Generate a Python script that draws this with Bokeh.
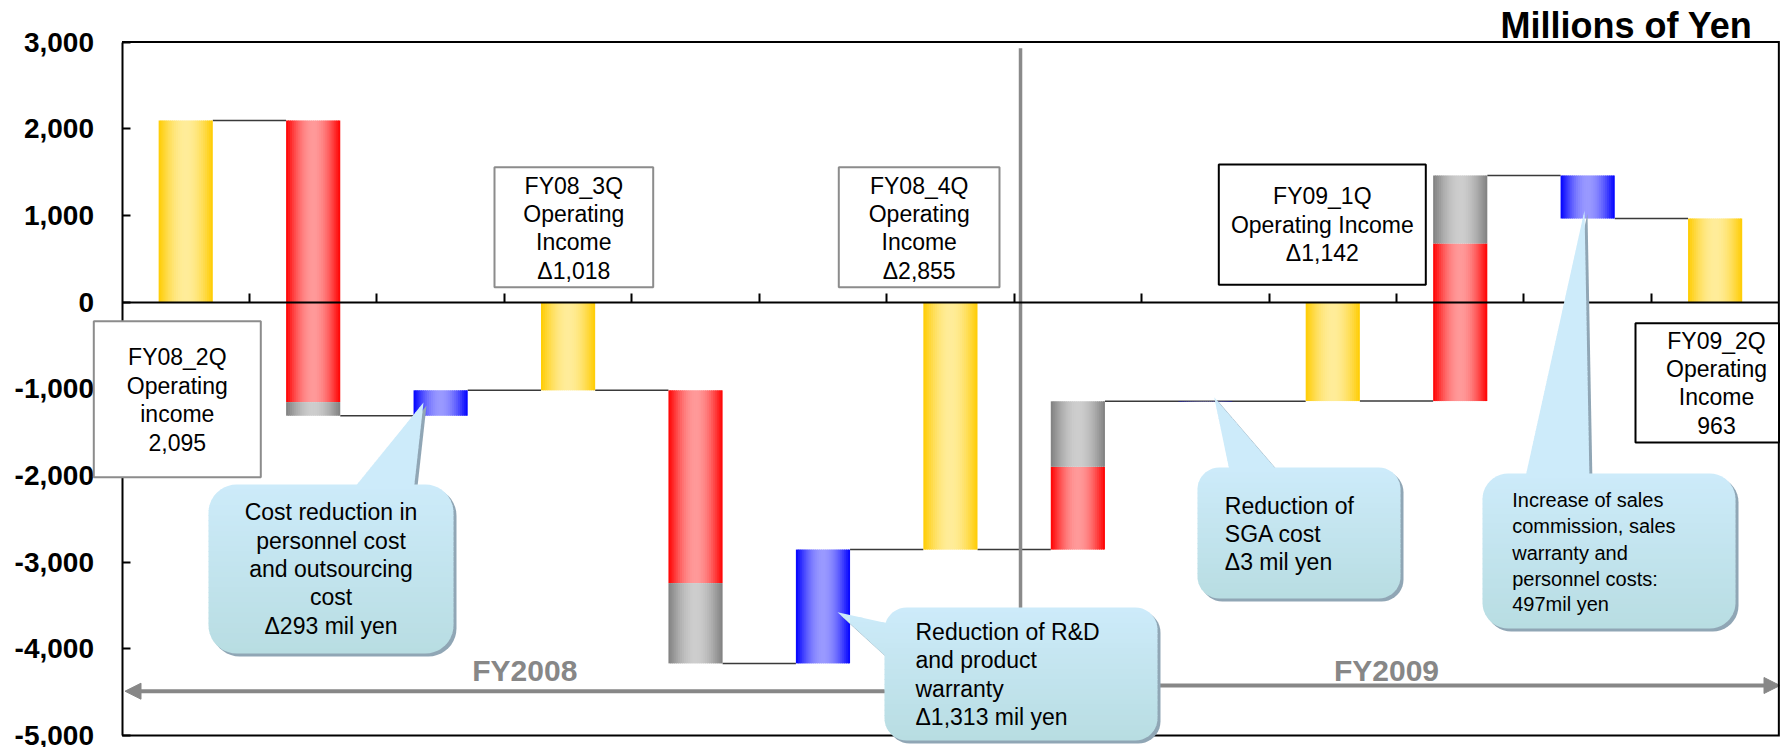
import math
from bokeh.plotting import figure
from bokeh.models import (ColumnDataSource, Range1d, LinearAxis, FixedTicker,
                          NumeralTickFormatter, Arrow, NormalHead)
from bokeh.core.properties import value
from bokeh.embed import file_html
from bokeh.resources import INLINE

# ---------------------------------------------------------------------------
# Operating income bridge (millions of yen), one slot per step
# ---------------------------------------------------------------------------
steps = ["FY08_2Q", "FY08_3Q decrease", "FY08_3Q cost reduction", "FY08_3Q",
         "FY08_4Q decrease", "FY08_4Q cost reduction", "FY08_4Q",
         "FY09_1Q increase", "FY09_1Q SGA reduction", "FY09_1Q",
         "FY09_2Q increase", "FY09_2Q cost increase", "FY09_2Q"]
total_values = [2095, None, None, -1018, None, None, -2855, None, None, -1142, None, None, 963]
red_delta = [0, -3249, 0, 0, -2224, 0, 0, 955, 0, 0, 1819, 0, 0]
gray_delta = [0, -157, 0, 0, -926, 0, 0, 755, 0, 0, 783, 0, 0]
blue_delta = [0, 0, 293, 0, 0, 1313, 0, 0, 3, 0, 0, -497, 0]
y_ticks = [-5000, -4000, -3000, -2000, -1000, 0, 1000, 2000, 3000]
period_labels = ["FY2008", "FY2009"]
unit_label = "Millions of Yen"

# ---------------------------------------------------------------------------
# Canvas geometry: the frame fills the whole page, axes sit at fixed places
# ---------------------------------------------------------------------------
W, H = 1780, 747
AXIS_PX = 121.5          # pixel column of the value axis
SLOT_PX = 127.45         # width of one step slot
TOP_PX, BOT_PX = 41.5, 735.0   # pixel rows of 3,000 and -5,000
PPU = (BOT_PX - TOP_PX) / 8000.0
X_START = -AXIS_PX / SLOT_PX
X_END = (W - AXIS_PX) / SLOT_PX
Y_TOP = 3000 + TOP_PX / PPU
Y_BOT = Y_TOP - H / PPU
N_SLOTS = len(steps)
BAR_W = 0.425
FONT = "Liberation Sans"
MID = 0.35   # distance from baseline to text middle, in em


def dx(px):
    return (px - AXIS_PX) / SLOT_PX


def dy(py):
    return Y_TOP - py / PPU


def mix(c0, c1, f):
    return "#%02x%02x%02x" % tuple(int(round(a + (b - a) * f)) for a, b in zip(c0, c1))


def fmt_income(v):
    return ("Δ" + f"{-v:,}") if v < 0 else f"{v:,}"


p = figure(width=W, height=H, x_range=Range1d(X_START, X_END), y_range=Range1d(Y_BOT, Y_TOP),
           output_backend="svg", toolbar_location=None, x_axis_location=None,
           y_axis_location=None, min_border=0, title=None, outline_line_color=None,
           background_fill_color="white", border_fill_color="white")
p.xgrid.visible = False
p.ygrid.visible = False

# value axis on the left edge of the chart box
yaxis = LinearAxis(fixed_location=0, ticker=FixedTicker(ticks=y_ticks),
                   formatter=NumeralTickFormatter(format="0,0"), bounds=(-5000, 3000),
                   major_tick_in=8, major_tick_out=0, minor_tick_in=0, minor_tick_out=0,
                   axis_line_width=2, axis_line_color="black", major_tick_line_width=2,
                   major_label_standoff=28, major_label_text_font=FONT,
                   major_label_text_font_size="28px", major_label_text_font_style="bold",
                   major_label_text_color="black")
p.add_layout(yaxis, "left")

# zero line with slot separators
slot_ticks = list(range(1, N_SLOTS))
xaxis = LinearAxis(fixed_location=0, ticker=FixedTicker(ticks=slot_ticks), bounds=(0, N_SLOTS),
                   major_tick_in=9, major_tick_out=0, minor_tick_in=0, minor_tick_out=0,
                   axis_line_width=2, axis_line_color="black", major_tick_line_width=2,
                   major_label_overrides={t: "" for t in slot_ticks})
p.add_layout(xaxis, "below")

# ---------------------------------------------------------------------------
# Waterfall segments
# ---------------------------------------------------------------------------
palette = {
    "total": ((255, 204, 0), (255, 236, 153)),
    "red": ((255, 0, 0), (255, 153, 153)),
    "gray": ((128, 128, 128), (205, 205, 205)),
    "blue": ((0, 0, 255), (153, 153, 255)),
}

segments = []
levels = []
visible = []
level = 0
for i in range(N_SLOTS):
    xc = i + 0.5
    if total_values[i] is not None:
        segments.append((xc, 0, total_values[i], "total"))
        level = total_values[i]
        visible.append(True)
    else:
        moved = 0
        for kind, d in (("red", red_delta[i]), ("gray", gray_delta[i]), ("blue", blue_delta[i])):
            if d:
                segments.append((xc, level, level + d, kind))
                level += d
                moved += abs(d)
        visible.append(moved >= 20)
    levels.append(level)

# connectors between consecutive visible bars
shown = [i for i in range(N_SLOTS) if visible[i]]
con = dict(x0=[], y0=[], x1=[], y1=[])
for a, b in zip(shown[:-1], shown[1:]):
    con["x0"].append(a + 0.5 + BAR_W / 2)
    con["x1"].append(b + 0.5 - BAR_W / 2)
    con["y0"].append(levels[a])
    con["y1"].append(levels[a])
p.segment(x0="x0", y0="y0", x1="x1", y1="y1", source=ColumnDataSource(con),
          line_color="#3a3a3a", line_width=1.5)

# cylinder-like shading: each bar is built from thin vertical strips
N_STRIPS = 28
ovl = 0.8 / SLOT_PX
strips = dict(left=[], right=[], bottom=[], top=[], color=[])
for xc, y0, y1, kind in segments:
    lo, hi = min(y0, y1), max(y0, y1)
    edge, center = palette[kind]
    for k in range(N_STRIPS):
        t0, t1 = k / N_STRIPS, (k + 1) / N_STRIPS
        f = math.sin(math.pi * (k + 0.5) / N_STRIPS)
        strips["left"].append(xc - BAR_W / 2 + t0 * BAR_W)
        strips["right"].append(xc - BAR_W / 2 + t1 * BAR_W + (0 if k == N_STRIPS - 1 else ovl))
        strips["bottom"].append(lo)
        strips["top"].append(hi)
        strips["color"].append(mix(edge, center, f))
p.quad(left="left", right="right", bottom="bottom", top="top", fill_color="color",
       line_color=None, source=ColumnDataSource(strips))

# fiscal-year divider
DIVIDER_X = 7.05
p.segment(x0=[DIVIDER_X], y0=[dy(47.7)], x1=[DIVIDER_X], y1=[-5000],
          line_color="#8a8a8a", line_width=3.5)

# chart box (top, right, bottom)
p.line(x=[0, N_SLOTS, N_SLOTS, 0], y=[3000, 3000, -5000, -5000],
       line_color="black", line_width=2, line_join="miter")

# fiscal-year span arrows and labels
ARROW_GRAY = "#878787"
p.add_layout(Arrow(end=NormalHead(size=16, fill_color=ARROW_GRAY, line_color=ARROW_GRAY),
                   x_start=DIVIDER_X, y_start=dy(690.7), x_end=dx(124.5), y_end=dy(690.7),
                   line_color=ARROW_GRAY, line_width=4, level="underlay"))
p.add_layout(Arrow(end=NormalHead(size=16, fill_color=ARROW_GRAY, line_color=ARROW_GRAY),
                   x_start=DIVIDER_X, y_start=dy(685.0), x_end=dx(1779.5), y_end=dy(685.0),
                   line_color=ARROW_GRAY, line_width=4, level="underlay"))
p.text(x=[dx(524.3), dx(1386.0)], y=[dy(680.7 - MID * 30), dy(680.0 - MID * 30)],
       text=period_labels, text_font=value(FONT), text_font_size="30px",
       text_font_style="bold", text_color=ARROW_GRAY, text_align="center",
       text_baseline="middle")

p.text(x=[dx(1752)], y=[dy(37.7 - MID * 36)], text=[unit_label], text_font=value(FONT),
       text_font_size="36px", text_font_style="bold", text_color="black",
       text_align="right", text_baseline="middle")


def add_lines(x_px, baselines, lines, size, align="center", color="black"):
    src = ColumnDataSource(dict(x=[dx(x_px)] * len(lines),
                                y=[dy(b - MID * size) for b in baselines], text=lines))
    p.text(x="x", y="y", text="text", source=src, text_font=value(FONT),
           text_font_size=f"{size}px", text_align=align, text_baseline="middle",
           text_color=color, level="annotation")


# ---------------------------------------------------------------------------
# Quarter operating income boxes
# ---------------------------------------------------------------------------
boxes = [
    # (left, top, right, bottom) px, border colour, text x, baselines, slot, word
    ((93.3, 320.7, 260.3, 476.7), "#8c8c8c", 176.8, [365, 393.3, 421.6, 450], 0, "income"),
    ((494.0, 166.7, 652.7, 286.7), "#8c8c8c", 573.3, [193.3, 221.6, 250, 278.3], 3, "Income"),
    ((838.3, 166.7, 999.0, 286.7), "#8c8c8c", 918.7, [193.3, 221.6, 250, 278.3], 6, "Income"),
    ((1218.3, 164.0, 1425.3, 284.3), "black", 1321.8, [204, 232.3, 260.7], 9, None),
    ((1635.0, 322.7, 1778.5, 442.0), "black", 1716.0, [348.3, 376.7, 405, 433.3], 12, "Income"),
]
for (l, t, r, b), border, tx, bl, slot, word in boxes:
    p.quad(left=[dx(l)], right=[dx(r)], top=[dy(t)], bottom=[dy(b)], fill_color="white",
           line_color=border, line_width=2, level="annotation")
    quarter = steps[slot]
    if word is None:
        lines = [quarter, "Operating Income", fmt_income(total_values[slot])]
    else:
        lines = [quarter, "Operating", word, fmt_income(total_values[slot])]
    add_lines(tx, bl, lines, 23)


# ---------------------------------------------------------------------------
# Speech-bubble notes
# ---------------------------------------------------------------------------
def rounded_rect(l, t, r, b, rad, n=10):
    pts = []
    for cx, cy, a0 in ((r - rad, t + rad, -90), (r - rad, b - rad, 0),
                       (l + rad, b - rad, 90), (l + rad, t + rad, 180)):
        for k in range(n + 1):
            a = math.radians(a0 + 90 * k / n)
            pts.append((cx + rad * math.cos(a), cy + rad * math.sin(a)))
    return pts


def clip_band(pts, y0, y1):
    def clip(poly, keep, yc):
        out = []
        for i in range(len(poly)):
            cur, prev = poly[i], poly[i - 1]
            def cross():
                t = (yc - prev[1]) / (cur[1] - prev[1])
                return (prev[0] + t * (cur[0] - prev[0]), yc)
            if keep(cur):
                if not keep(prev):
                    out.append(cross())
                out.append(cur)
            elif keep(prev):
                out.append(cross())
        return out
    pts = clip(pts, lambda q: q[1] >= y0, y0)
    if len(pts) < 3:
        return []
    return clip(pts, lambda q: q[1] <= y1, y1)


BUBBLE_TOP = (205, 235, 250)
BUBBLE_BOT = (184, 221, 226)
BUBBLE_SHADOW = "#90a6b5"


def bubble(body, pointer):
    l, t, r, b = body
    rad = min(r - l, b - t) / 6
    body_pts = rounded_rect(l, t, r, b, rad)
    xs, ys, cols = [], [], []
    for shape in (pointer, body_pts):
        xs.append([dx(x + 3) for x, _ in shape])
        ys.append([dy(y + 3) for _, y in shape])
        cols.append(BUBBLE_SHADOW)
    for shape in (pointer, body_pts):
        y_lo = min(y for _, y in shape)
        y_hi = max(y for _, y in shape)
        n = max(4, int((y_hi - y_lo) / 5))
        h = (y_hi - y_lo) / n
        for k in range(n):
            a = y_lo + k * h
            piece = clip_band(shape, a, min(a + h + 0.8, y_hi))
            if len(piece) < 3:
                continue
            f = min(1.0, max(0.0, (a + h / 2 - t) / (b - t)))
            xs.append([dx(x) for x, _ in piece])
            ys.append([dy(y) for _, y in piece])
            cols.append(mix(BUBBLE_TOP, BUBBLE_BOT, f))
    p.patches(xs=xs, ys=ys, fill_color=cols, line_color=None, level="annotation")


bubble((208, 484, 453, 653), [(350, 492), (413, 492), (423, 402)])
add_lines(330.5, [520, 548.3, 576.7, 605, 633.4],
          ["Cost reduction in", "personnel cost", "and outsourcing", "cost",
           f"Δ{blue_delta[2]:,} mil yen"], 23)

bubble((884, 607, 1157, 740), [(892, 624), (892, 662), (837, 611.7)])
add_lines(915, [639.3, 668, 696.7, 725],
          ["Reduction of R&D", "and product", "warranty", f"Δ{blue_delta[5]:,} mil yen"],
          23, align="left")

bubble((1197, 467, 1400, 598), [(1230, 475), (1281, 475), (1213.7, 396.7)])
add_lines(1224.3, [513.3, 541.7, 570],
          ["Reduction of", "SGA cost", f"Δ{blue_delta[8]:,} mil yen"], 23, align="left")

bubble((1482, 473, 1735, 628), [(1524, 481), (1589, 481), (1584, 210)])
add_lines(1511.7, [506.7, 532.7, 559, 585, 610.7],
          ["Increase of sales", "commission, sales", "warranty and", "personnel costs:",
           f"{-blue_delta[11]:,}mil yen"], 20, align="left")

open("out.html", "w").write(file_html(p, INLINE))
